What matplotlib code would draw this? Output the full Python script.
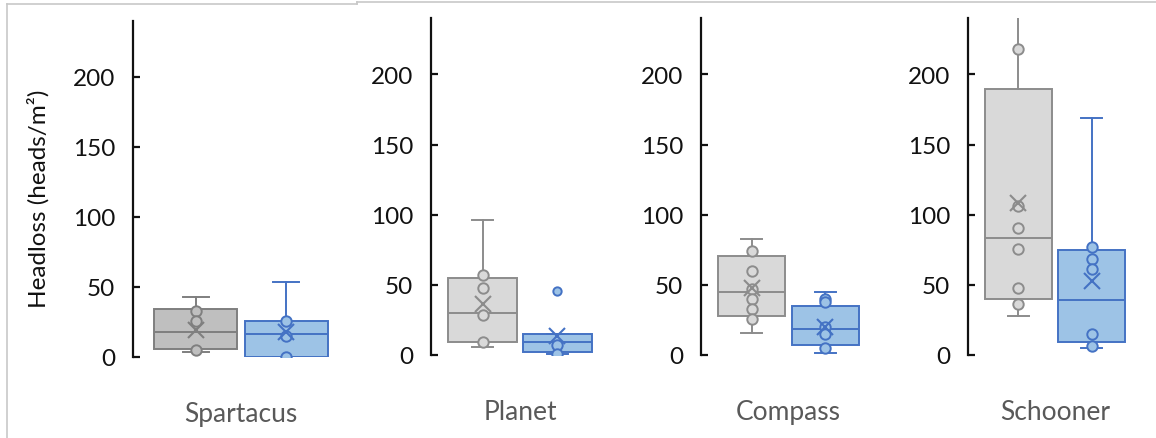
import matplotlib
matplotlib.use("Agg")
import matplotlib.pyplot as plt
from matplotlib.lines import Line2D

plt.rcParams['font.family'] = ['Lato', 'DejaVu Sans']

# ---------------- data ----------------
categories = ["Spartacus", "Planet", "Compass", "Schooner"]

grey_whislo = [3.3, 5.5, 15.7, 27.6]
grey_q1 = [5.9, 9.5, 27.6, 39.9]
grey_med = [18.1, 29.7, 44.7, 83.1]
grey_q3 = [34.3, 54.9, 70.3, 189.5]
grey_whishi = [42.6, 96.2, 82.4, 245.0]
grey_mean = [19.5, 36.3, 47.5, 108.3]
grey_points = [
    [32.6, 25.9, 5.0],
    [56.8, 47.7, 28.5, 9.0],
    [73.9, 60.1, 47.0, 39.9, 32.8, 25.6],
    [218.0, 106.0, 90.7, 75.7, 47.5, 36.6],
]
grey_outliers = [[], [], [], []]

blue_whislo = [0.0, 0.7, 1.2, 4.7]
blue_q1 = [0.2, 1.9, 7.3, 9.0]
blue_med = [16.4, 9.0, 18.5, 39.2]
blue_q3 = [26.0, 15.0, 34.7, 75.0]
blue_whishi = [53.6, 15.0, 44.7, 169.0]
blue_mean = [17.6, 13.5, 20.2, 53.0]
blue_points = [
    [25.5, 14.8, 0.0],
    [7.4, 0.7],
    [39.9, 37.5, 19.7, 15.0, 4.7],
    [77.2, 68.4, 61.3, 15.0, 6.6],
]
blue_outliers = [[], [45.8], [], []]

y_ticks = [0, 50, 100, 150, 200]
y_label = "Headloss (heads/m²)"

# ---------------- styling ----------------
W, H = 1156, 439
panels_px = [(133, 349, 358, 22), (431, 609, 356, 19.2),
             (701, 876, 356, 19.2), (968, 1142, 356, 19.2)]
grey_face = ['#bfbfbf', '#d9d9d9', '#d9d9d9', '#d9d9d9']
grey_edge = ['#7f7f7f', '#8c8c8c', '#8c8c8c', '#8c8c8c']
blue_face = '#9dc3e6'
blue_edge = '#4472c4'
pos_grey, pos_blue = 0.29, 0.71
box_w = 0.385
cap_w = 0.12
lw = 1.4
txt = '#111111'

fig = plt.figure(figsize=(W / 100, H / 100), dpi=100)


def draw_box(ax, pos, whislo, q1, med, q3, whishi, mean, pts, outl, face, edge):
    stats = [dict(med=med, q1=q1, q3=q3, whislo=whislo, whishi=whishi,
                  fliers=outl)]
    ax.bxp(stats, positions=[pos], widths=box_w, capwidths=cap_w,
           patch_artist=True, showfliers=True, manage_ticks=False,
           boxprops=dict(facecolor=face, edgecolor=edge, linewidth=lw),
           medianprops=dict(color=edge, linewidth=lw),
           whiskerprops=dict(color=edge, linewidth=lw),
           capprops=dict(color=edge, linewidth=lw),
           flierprops=dict(marker='o', markerfacecolor=face,
                           markeredgecolor=edge, markersize=6,
                           markeredgewidth=lw))
    ax.plot([pos] * len(pts), pts, linestyle='none', marker='o',
            markerfacecolor=face, markeredgecolor=edge, markersize=7.5,
            markeredgewidth=lw, zorder=4)
    ax.plot([pos], [mean], linestyle='none', marker='x', color=edge,
            markersize=11, markeredgewidth=1.5, zorder=5)


for i, cat in enumerate(categories):
    l, r, z, t = panels_px[i]
    ax = fig.add_axes([l / W, (H - z) / H, (r - l) / W, (z - t) / H])
    draw_box(ax, pos_grey, grey_whislo[i], grey_q1[i], grey_med[i],
             grey_q3[i], grey_whishi[i], grey_mean[i], grey_points[i],
             grey_outliers[i], grey_face[i], grey_edge[i])
    draw_box(ax, pos_blue, blue_whislo[i], blue_q1[i], blue_med[i],
             blue_q3[i], blue_whishi[i], blue_mean[i], blue_points[i],
             blue_outliers[i], blue_face, blue_edge)
    ax.set_xlim(0, 1)
    ax.set_ylim(0, 240)
    ax.set_yticks(y_ticks)
    ax.set_xticks([0.5], [cat])
    for s in ['top', 'right', 'bottom']:
        ax.spines[s].set_visible(False)
    ax.spines['left'].set_linewidth(1.6)
    ax.spines['left'].set_color(txt)
    ax.tick_params(axis='y', direction='in', length=5, width=1.6,
                   pad=13, labelsize=17.5, color=txt, labelcolor=txt)
    ax.tick_params(axis='x', length=0, pad=32, labelsize=19,
                   labelcolor='#595959')
    ax.set_facecolor('none')

fig.text(38 / W, 1 - 199 / H, y_label, rotation=90, ha='center',
         va='center', fontsize=17.5, color=txt)

# screenshot frame lines
bc = '#c8c8c8'
fig.add_artist(Line2D([7 / W, 357 / W], [1 - 5 / H] * 2, color=bc, lw=1.2))
fig.add_artist(Line2D([357 / W, 357 / W], [1 - 5 / H, 1 - 3 / H], color=bc, lw=1.2))
fig.add_artist(Line2D([357 / W, 1], [1 - 3 / H] * 2, color=bc, lw=1.2))
fig.add_artist(Line2D([7 / W, 7 / W], [0, 1 - 5 / H], color=bc, lw=1.2))

fig.savefig("out.png", dpi=100)
